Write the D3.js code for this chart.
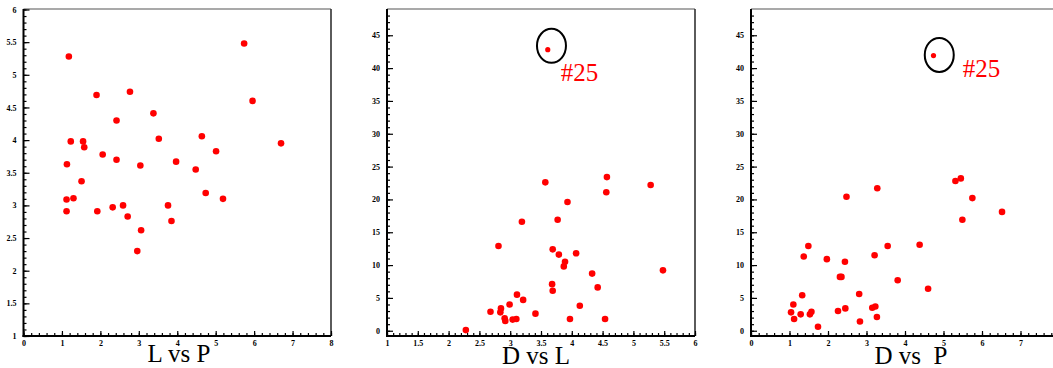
<!DOCTYPE html>
<html>
<head>
<meta charset="utf-8">
<script src="https://cdn.jsdelivr.net/npm/d3@7"></script>
<style>
  body { margin: 0; background: #fff; }
  svg { display: block; }
  .tick text { font-family: "Liberation Serif", serif; font-weight: bold; font-size: 8px; fill: #000; }
  .big { font-family: "Liberation Serif", "Times New Roman", serif; font-size: 25px; }
</style>
</head>
<body>
<div id="chart"></div>
<script>
// L vs P
const lvpP = [1.18, 1.90, 2.77, 5.74, 5.96, 3.38, 2.42, 1.23, 1.55, 1.58, 3.52, 4.64, 6.70, 2.06, 5.01, 2.42, 1.13,
  3.04, 3.97, 4.48, 1.51, 1.12, 1.30, 4.74, 5.19, 1.12, 1.92, 2.32, 2.59, 3.76, 2.71, 3.85, 3.06, 2.96];
const lvpL = [5.28, 4.69, 4.74, 5.48, 4.60, 4.41, 4.30, 3.98, 3.98, 3.89, 4.02, 4.06, 3.95, 3.78, 3.83, 3.70, 3.63,
  3.61, 3.67, 3.55, 3.37, 3.09, 3.11, 3.19, 3.10, 2.91, 2.91, 2.97, 3.00, 3.00, 2.83, 2.76, 2.62, 2.30];

// D vs L  (premier point = #25)
const dvlL = [3.61, 3.57, 4.57, 5.28, 4.56, 3.93, 3.19, 3.77, 2.81, 3.69, 3.79, 4.07, 3.89, 3.87, 5.48, 4.33, 3.68,
  4.42, 3.69, 3.11, 3.21, 2.99, 4.13, 2.85, 2.68, 2.84, 3.41, 2.91, 2.92, 3.04, 3.10, 3.97, 4.54, 2.28];
const dvlD = [42.8, 22.6, 23.4, 22.2, 21.1, 19.6, 16.6, 16.9, 12.9, 12.4, 11.6, 11.8, 10.5, 9.8, 9.2, 8.7, 7.1,
  6.6, 6.1, 5.5, 4.7, 4.0, 3.8, 3.4, 2.9, 2.8, 2.6, 1.9, 1.5, 1.7, 1.8, 1.8, 1.8, 0.1];

// D vs P  (premier point = #25)
const dvpP = [4.74, 5.45, 5.31, 3.28, 2.48, 5.75, 6.52, 5.49, 4.38, 1.49, 3.55, 1.37, 3.21, 1.97, 2.44, 2.31, 2.35,
  3.81, 4.60, 2.81, 1.33, 1.10, 3.15, 3.23, 2.45, 2.26, 1.04, 1.29, 1.53, 1.57, 1.12, 3.27, 2.83, 1.74];
const dvpD = [41.9, 23.2, 22.8, 21.7, 20.4, 20.2, 18.1, 16.9, 13.1, 12.9, 12.9, 11.3, 11.5, 10.9, 10.5, 8.2, 8.2,
  7.7, 6.4, 5.6, 5.4, 4.0, 3.5, 3.7, 3.4, 3.0, 2.8, 2.5, 2.5, 2.9, 1.8, 2.1, 1.4, 0.6];

// graduations
const ticksP = [0, 1, 2, 3, 4, 5, 6, 7, 8];
const ticksL = [1, 1.5, 2, 2.5, 3, 3.5, 4, 4.5, 5, 5.5, 6];
const ticksD = [0, 5, 10, 15, 20, 25, 30, 35, 40, 45];

const titles = ["L vs P", "D vs L", "D vs  P"];

const W = 1053, H = 368;
const frameTop = 9, frameBottom = 336;

const svg = d3.select("#chart").append("svg")
  .attr("width", W)
  .attr("height", H);

function panel(cfg) {
  const x = d3.scaleLinear().domain(cfg.xDomain).range([cfg.left, cfg.right]);
  const y = d3.scaleLinear().domain(cfg.yDomain).range([frameBottom, cfg.yTop]);
  const g = svg.append("g");

  // cadre haut et droit
  g.append("line").attr("x1", cfg.left).attr("x2", cfg.right).attr("y1", frameTop).attr("y2", frameTop)
    .attr("stroke", "#555").attr("stroke-width", 1.2);
  g.append("line").attr("x1", cfg.right).attr("x2", cfg.right).attr("y1", frameTop).attr("y2", frameBottom)
    .attr("stroke", "#333").attr("stroke-width", 1.6);

  // petites graduations
  g.append("g").attr("transform", "translate(" + cfg.left + ",0)")
    .call(d3.axisLeft(y).tickValues(cfg.yMinor).tickFormat("").tickSize(-3))
    .call(a => a.select(".domain").remove());
  g.append("g").attr("transform", "translate(0," + frameBottom + ")")
    .call(d3.axisBottom(x).tickValues(cfg.xMinor).tickFormat("").tickSize(-3))
    .call(a => a.select(".domain").remove());

  // grandes graduations
  g.append("g").attr("transform", "translate(" + cfg.left + ",0)")
    .call(d3.axisLeft(y).tickValues(cfg.yTicks).tickFormat(d3.format("")).tickSize(-6).tickPadding(7))
    .call(a => a.select(".domain").remove());
  g.append("g").attr("transform", "translate(0," + frameBottom + ")")
    .call(d3.axisBottom(x).tickValues(cfg.xTicks).tickFormat(d3.format("")).tickSize(-5).tickPadding(4))
    .call(a => a.select(".domain").remove());

  g.selectAll(".tick line").attr("stroke", "#000").attr("stroke-width", 1.2);

  // axes
  g.append("line").attr("x1", cfg.left).attr("x2", cfg.left).attr("y1", frameTop).attr("y2", frameBottom + 1)
    .attr("stroke", "#000").attr("stroke-width", 2);
  g.append("line").attr("x1", cfg.left - 1).attr("x2", cfg.right).attr("y1", frameBottom).attr("y2", frameBottom)
    .attr("stroke", "#000").attr("stroke-width", 2);

  // points
  g.selectAll("circle.pt").data(cfg.xs)
    .enter().append("circle")
    .attr("class", "pt")
    .attr("cx", d => x(d))
    .attr("cy", (d, i) => y(cfg.ys[i]))
    .attr("r", (d, i) => (cfg.mark && i == 0) ? 2.6 : 3.3)
    .attr("fill", "#ff0000");

  // #25
  if (cfg.mark) {
    g.append("ellipse")
      .attr("cx", x(cfg.mark[0]))
      .attr("cy", y(cfg.mark[1]))
      .attr("rx", 14.5).attr("ry", 17)
      .attr("fill", "none").attr("stroke", "#000").attr("stroke-width", 2);
    g.append("text")
      .attr("class", "big")
      .attr("x", x(cfg.markText[0]))
      .attr("y", y(cfg.markText[1]))
      .attr("fill", "#ff0000")
      .text("#25");
  }

  svg.append("text")
    .attr("class", "big")
    .attr("x", cfg.titleX)
    .attr("y", cfg.titleY)
    .attr("text-anchor", "middle")
    .attr("fill", "#000")
    .style("white-space", "pre")
    .text(cfg.title);
}

panel({
  left: 23.5, right: 331, xDomain: [0, 8], yDomain: [1, 6], yTop: 9.5,
  xTicks: ticksP, yTicks: ticksL,
  xMinor: d3.range(0, 8.01, 0.2), yMinor: d3.range(1, 6.01, 0.1),
  xs: lvpP, ys: lvpL,
  title: titles[0], titleX: 179, titleY: 362
});

panel({
  left: 387, right: 695, xDomain: [1, 6], yDomain: [-0.8, 49], yTop: 9,
  xTicks: ticksL, yTicks: ticksD,
  xMinor: d3.range(1, 6.01, 0.1), yMinor: d3.range(0, 49, 1),
  xs: dvlL, ys: dvlD,
  mark: [3.67, 43.4], markText: [3.82, 38.1],
  title: titles[1], titleX: 536, titleY: 364
});

panel({
  left: 751, right: 1059, xDomain: [0, 8], yDomain: [-0.8, 49], yTop: 9,
  xTicks: ticksP, yTicks: ticksD,
  xMinor: d3.range(0, 8.01, 0.2), yMinor: d3.range(0, 49, 1),
  xs: dvpP, ys: dvpD,
  mark: [4.89, 42.0], markText: [5.5, 38.7],
  title: titles[2], titleX: 911, titleY: 364
});
</script>
</body>
</html>
